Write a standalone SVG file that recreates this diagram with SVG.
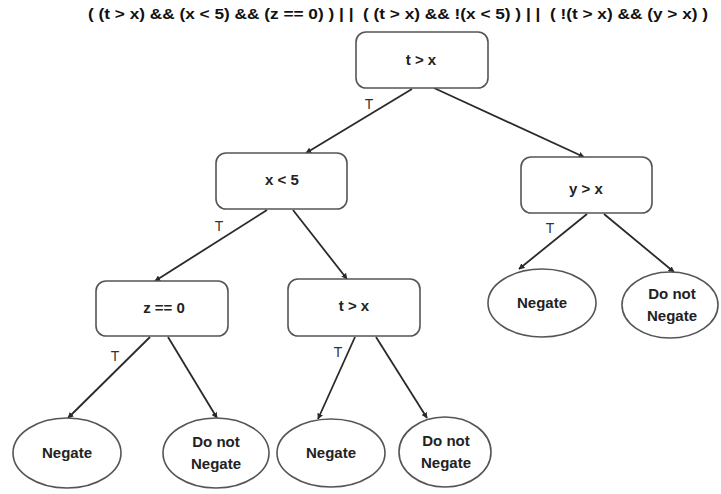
<svg xmlns="http://www.w3.org/2000/svg" width="721" height="494" viewBox="0 0 721 494">
  <style>
    .box { fill: #ffffff; stroke: #555555; stroke-width: 1.6; }
    .leaf { fill: #ffffff; stroke: #555555; stroke-width: 1.6; }
    .lbl { font-family: "Liberation Sans", Arial, sans-serif; font-weight: bold; font-size: 15px; fill: #222222; text-anchor: middle; }
    .edge { stroke: #2a2a2a; stroke-width: 1.8; fill: none; marker-end: url(#arrow); }
    .t { font-family: "Liberation Sans", Arial, sans-serif; font-size: 14px; fill: #333333; text-anchor: middle; }
    .title { font-family: "Liberation Sans", Arial, sans-serif; font-weight: bold; font-size: 14px; fill: #111111; text-anchor: middle; white-space: pre; }
  </style>
  <defs>
    <marker id="arrow" viewBox="0 0 10 10" refX="9" refY="5" markerWidth="6" markerHeight="6" orient="auto" markerUnits="userSpaceOnUse">
      <path d="M0,0 L10,5 L0,10 z" fill="#2a2a2a"/>
    </marker>
  </defs>
  <rect width="721" height="494" fill="#ffffff"/>

  <text class="title" xml:space="preserve" x="398" y="19" textLength="620" lengthAdjust="spacingAndGlyphs">( (t &gt; x) &amp;&amp; (x &lt; 5) &amp;&amp; (z == 0) ) | |  ( (t &gt; x) &amp;&amp; !(x &lt; 5) ) | |  ( !(t &gt; x) &amp;&amp; (y &gt; x) )</text>

  <g id="connectors">
    <line class="edge" x1="412" y1="89" x2="306" y2="153"/>
    <line class="edge" x1="434" y1="88" x2="584" y2="157"/>
    <line class="edge" x1="267" y1="210" x2="155" y2="281"/>
    <line class="edge" x1="293" y1="210" x2="347" y2="279"/>
    <line class="edge" x1="587" y1="214" x2="519" y2="269"/>
    <line class="edge" x1="604" y1="214" x2="674" y2="272"/>
    <line class="edge" x1="150" y1="337" x2="68" y2="418"/>
    <line class="edge" x1="168" y1="337" x2="217" y2="418"/>
    <line class="edge" x1="355" y1="337" x2="318" y2="419"/>
    <line class="edge" x1="376" y1="337" x2="427" y2="418"/>
    <text class="t" x="369" y="109">T</text>
    <text class="t" x="219" y="231">T</text>
    <text class="t" x="550" y="233">T</text>
    <text class="t" x="115" y="361">T</text>
    <text class="t" x="338" y="357">T</text>
  </g>

  <g id="root">
    <rect class="box" x="356" y="32" width="132" height="56" rx="10"/>
    <text class="lbl" x="421" y="65">t &gt; x</text>
  </g>
  <g id="x-lt-5">
    <rect class="box" x="216" y="153" width="131" height="56" rx="10"/>
    <text class="lbl" x="282" y="185">x &lt; 5</text>
  </g>
  <g id="y-gt-x">
    <rect class="box" x="521" y="157" width="131" height="56" rx="10"/>
    <text class="lbl" x="586" y="194">y &gt; x</text>
  </g>
  <g id="z-eq-0">
    <rect class="box" x="96" y="281" width="132" height="55" rx="10"/>
    <text class="lbl" x="164" y="313">z == 0</text>
  </g>
  <g id="t-gt-x-2">
    <rect class="box" x="288" y="279" width="132" height="57" rx="10"/>
    <text class="lbl" x="354" y="311">t &gt; x</text>
  </g>

  <g id="negate-1">
    <ellipse class="leaf" cx="67" cy="453" rx="54" ry="35"/>
    <text class="lbl" x="67" y="458">Negate</text>
  </g>
  <g id="donot-1">
    <ellipse class="leaf" cx="216" cy="453" rx="53" ry="35"/>
    <text class="lbl" x="216" y="447">Do not</text>
    <text class="lbl" x="216" y="469">Negate</text>
  </g>
  <g id="negate-2">
    <ellipse class="leaf" cx="331" cy="453" rx="54" ry="34"/>
    <text class="lbl" x="331" y="458">Negate</text>
  </g>
  <g id="donot-2">
    <ellipse class="leaf" cx="445" cy="452" rx="46" ry="35"/>
    <text class="lbl" x="446" y="446">Do not</text>
    <text class="lbl" x="446" y="468">Negate</text>
  </g>
  <g id="negate-3">
    <ellipse class="leaf" cx="542" cy="303" rx="54" ry="34"/>
    <text class="lbl" x="542" y="308">Negate</text>
  </g>
  <g id="donot-3">
    <ellipse class="leaf" cx="670" cy="305" rx="48" ry="33"/>
    <text class="lbl" x="672" y="299">Do not</text>
    <text class="lbl" x="672" y="321">Negate</text>
  </g>
</svg>
